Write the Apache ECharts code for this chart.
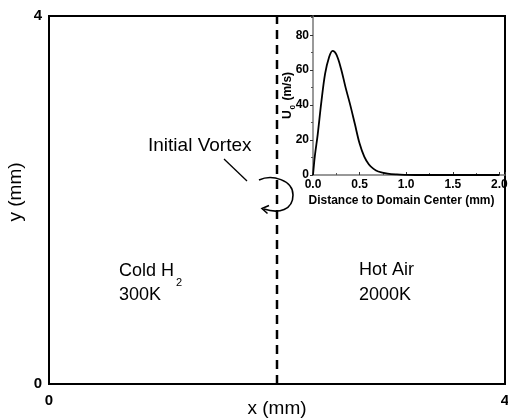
<!DOCTYPE html>
<html>
<head>
<meta charset="utf-8">
<script src="https://cdn.jsdelivr.net/npm/echarts@6/dist/echarts.min.js"></script>
<style>html,body{margin:0;padding:0;background:#fff;}#c{width:508px;height:419px;}</style>
</head>
<body>
<div id="c"></div>
<script>
// Main domain (mm)
var domainTicks = [0, 4];
var interfaceX = 2; // dashed interface between H2 and air
// Inset: initial vortex velocity profile
var distance = [0, 0.02, 0.05, 0.09, 0.13, 0.17, 0.21, 0.25, 0.30, 0.35, 0.40, 0.45, 0.50, 0.55, 0.60, 0.65, 0.70, 0.80, 0.90, 1.00, 1.10, 1.30, 1.60, 2.00];
var velocity = [0, 11, 23, 42, 58, 67, 71, 69, 61, 50, 40, 29, 18, 10.5, 6, 3.5, 2, 0.8, 0.3, 0.1, 0, 0, 0, 0];
var insetXTicks = [0.0, 0.5, 1.0, 1.5, 2.0];
var insetYTicks = [0, 20, 40, 60, 80];

var chart = echarts.init(document.getElementById('c'), null, {renderer: 'canvas'});
var FONT = 'Liberation Sans, Arial, sans-serif';

var curve = distance.map(function (d, i) { return [d, velocity[i]]; });

function fmtInsetX(v) {
  for (var i = 0; i < insetXTicks.length; i++) if (Math.abs(insetXTicks[i] - v) < 1e-6) return insetXTicks[i].toFixed(1);
  return '';
}
function fmtInsetY(v) {
  for (var i = 0; i < insetYTicks.length; i++) if (Math.abs(insetYTicks[i] - v) < 1e-6) return String(insetYTicks[i]);
  return '';
}

var option = {
  animation: false,
  backgroundColor: '#fff',
  grid: [
    {left: 49, top: 16, width: 456, height: 368, show: true, borderColor: '#000', borderWidth: 2, backgroundColor: 'transparent', containLabel: false, outerBoundsMode: 'none'},
    {left: 313, top: 16, width: 192, height: 159, show: false, containLabel: false, outerBoundsMode: 'none'}
  ],
  xAxis: [
    {
      gridIndex: 0, type: 'value', min: domainTicks[0], max: domainTicks[1], interval: 4,
      axisLine: {show: false}, axisTick: {show: false}, splitLine: {show: false},
      axisLabel: {margin: 9, color: '#000', fontFamily: FONT, fontWeight: 'bold', fontSize: 15},
      name: 'x (mm)', nameLocation: 'middle', nameGap: 15, nameMoveOverlap: false,
      nameTextStyle: {color: '#000', fontFamily: FONT, fontSize: 19}
    },
    {
      gridIndex: 1, type: 'value', min: 0, max: 2.06, interval: 0.5,
      axisLine: {show: true, onZero: false, lineStyle: {color: '#777', width: 1.5}},
      axisTick: {show: true, inside: true, length: 3, lineStyle: {color: '#333', width: 1}},
      minorTick: {show: true, splitNumber: 2, length: 2, lineStyle: {color: '#555'}},
      splitLine: {show: false},
      axisLabel: {margin: 4, color: '#000', fontFamily: FONT, fontWeight: 'bold', fontSize: 12, formatter: fmtInsetX},
      name: 'Distance to Domain Center (mm)', nameLocation: 'middle', nameGap: 20, nameMoveOverlap: false,
      nameTextStyle: {color: '#000', fontFamily: FONT, fontWeight: 'bold', fontSize: 12, padding: [0, 15, 0, 0]}
    }
  ],
  yAxis: [
    {
      gridIndex: 0, type: 'value', min: domainTicks[0], max: domainTicks[1], interval: 4,
      axisLine: {show: false}, axisTick: {show: false}, splitLine: {show: false},
      axisLabel: {margin: 7, color: '#000', fontFamily: FONT, fontWeight: 'bold', fontSize: 15},
      name: 'y (mm)', nameLocation: 'middle', nameGap: 24, nameRotate: 90, nameMoveOverlap: false,
      nameTextStyle: {color: '#000', fontFamily: FONT, fontSize: 19, padding: [0, 0, 0, 16]}
    },
    {
      gridIndex: 1, type: 'value', min: 0, max: 91, interval: 20,
      axisLine: {show: true, onZero: false, lineStyle: {color: '#777', width: 1.5}},
      axisTick: {show: true, inside: false, length: 3, lineStyle: {color: '#333', width: 1}},
      minorTick: {show: true, splitNumber: 2, length: 2, lineStyle: {color: '#555'}},
      splitLine: {show: false},
      axisLabel: {margin: 4, color: '#000', fontFamily: FONT, fontWeight: 'bold', fontSize: 12, formatter: fmtInsetY},
      name: 'U{sub|0} (m/s)', nameLocation: 'middle', nameGap: 17, nameRotate: 90, nameMoveOverlap: false,
      nameTextStyle: {
        color: '#000', fontFamily: FONT, fontWeight: 'bold', fontSize: 12, lineHeight: 16,
        rich: {sub: {fontSize: 8, fontWeight: 'bold', fontFamily: FONT, color: '#000', lineHeight: 8, padding: [9, 1, 0, 1]}}
      }
    }
  ],
  series: [
    {
      type: 'line', xAxisIndex: 0, yAxisIndex: 0,
      data: [[interfaceX, domainTicks[0]], [interfaceX, domainTicks[1]]],
      showSymbol: false, silent: true,
      lineStyle: {color: '#000', width: 2.5, type: [9, 6]}
    },
    {
      type: 'line', xAxisIndex: 1, yAxisIndex: 1, data: curve, smooth: 0.35,
      showSymbol: false, silent: true,
      lineStyle: {color: '#000', width: 1.8}
    }
  ],
  graphic: [
    {type: 'text', x: 148, y: 136, style: {text: 'Initial Vortex', fill: '#000', font: '19px ' + FONT}},
    {type: 'line', shape: {x1: 224, y1: 159, x2: 247, y2: 181}, style: {stroke: '#000', lineWidth: 1.3}},
    {type: 'bezierCurve', shape: {x1: 259, y1: 180, cpx1: 272, cpy1: 174, cpx2: 293, cpy2: 180, x2: 293, y2: 195}, style: {fill: null, stroke: '#000', lineWidth: 1.6}},
    {type: 'bezierCurve', shape: {x1: 293, y1: 195, cpx1: 293, cpy1: 210, cpx2: 279, cpy2: 214, x2: 264, y2: 209}, style: {fill: null, stroke: '#000', lineWidth: 1.6}},
    {type: 'polyline', shape: {points: [[269, 205.5], [262, 208.5], [267.5, 213.5]]}, style: {fill: null, stroke: '#000', lineWidth: 1.6}},
    {type: 'text', x: 119, y: 262, style: {text: 'Cold H', fill: '#000', font: '18px ' + FONT}},
    {type: 'text', x: 176, y: 277, style: {text: '2', fill: '#000', font: '11px ' + FONT}},
    {type: 'text', x: 119, y: 286, style: {text: '300K', fill: '#000', font: '18px ' + FONT}},
    {type: 'text', x: 359, y: 261, style: {text: 'Hot Air', fill: '#000', font: '18px ' + FONT}},
    {type: 'text', x: 359, y: 286, style: {text: '2000K', fill: '#000', font: '18px ' + FONT}}
  ]
};
chart.setOption(option);
</script>
</body>
</html>
